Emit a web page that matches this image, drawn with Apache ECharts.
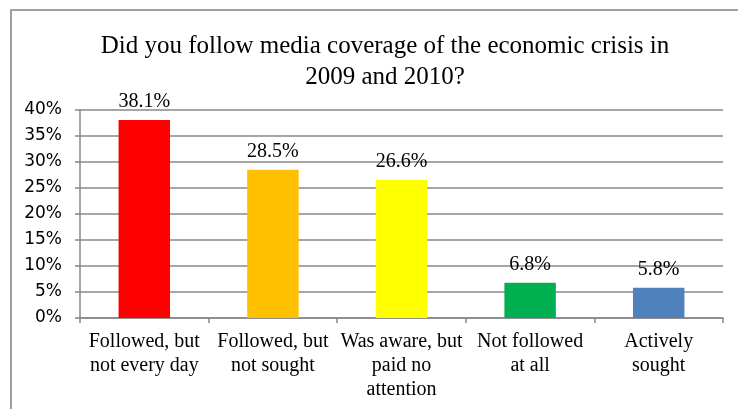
<!DOCTYPE html>
<html><head><meta charset="utf-8">
<script src="https://cdn.jsdelivr.net/npm/echarts@6/dist/echarts.min.js"></script>
<style>html,body{margin:0;padding:0;background:#fff}#c{width:738px;height:409px}</style>
</head><body><div id="c"></div>
<script>
const categories = ["Followed, but\nnot every day", "Followed, but\nnot sought", "Was aware, but\npaid no\nattention", "Not followed\nat all", "Actively\nsought"];
const values = [38.1, 28.5, 26.6, 6.8, 5.8];
const colors = ["#FF0000", "#FFC000", "#FFFF00", "#00B050", "#4F81BD"];
const yTicks = [0, 5, 10, 15, 20, 25, 30, 35, 40];

const chart = echarts.init(document.getElementById('c'));
chart.setOption({
  animation: false,
  title: {
    text: "Did you follow media coverage of the economic crisis in\n2009 and 2010?",
    left: 380, top: 26, textAlign: 'center',
    textStyle: {fontFamily: 'Liberation Serif', fontSize: 25, fontWeight: 'normal', color: '#000', lineHeight: 31}
  },
  graphic: [
    {type: 'polyline', shape: {points: [[11, 409], [11, 10], [738, 10]]}, style: {stroke: '#a0a0a0', lineWidth: 2, fill: null}}
  ],
  grid: {left: 80, right: 15, top: 110, bottom: 91, containLabel: false},
  xAxis: {
    type: 'category', data: categories,
    axisLine: {lineStyle: {color: '#888', width: 1.5}},
    axisTick: {show: true, length: 5, lineStyle: {color: '#888', width: 1.5}},
    axisLabel: {fontFamily: 'Liberation Serif', fontSize: 20, color: '#000', lineHeight: 24, margin: 12, interval: 0}
  },
  yAxis: {
    type: 'value', min: 0, max: 40, interval: 5,
    axisLine: {show: true, lineStyle: {color: '#888', width: 1.5}},
    axisTick: {show: true, length: 5, lineStyle: {color: '#888', width: 1.5}},
    splitLine: {lineStyle: {color: '#888', width: 1.5}},
    axisLabel: {fontFamily: 'DejaVu Sans', fontSize: 17, color: '#000', margin: 18, formatter: v => yTicks.includes(v) ? v + '%' : ''}
  },
  series: [{
    type: 'bar', barWidth: '40%',
    data: values.map((v, i) => ({value: v, itemStyle: {color: colors[i]}})),
    label: {show: true, position: 'top', distance: 8, formatter: p => p.value.toFixed(1) + '%',
      fontFamily: 'Liberation Serif', fontSize: 20, color: '#000'}
  }]
});
</script></body></html>
